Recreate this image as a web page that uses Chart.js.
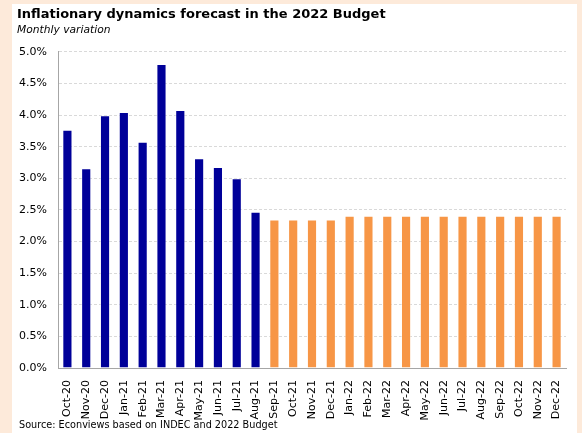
<!DOCTYPE html>
<html>
<head>
<meta charset="utf-8">
<script src="https://cdn.jsdelivr.net/npm/chart.js@4"></script>
<style>
  html, body { margin: 0; padding: 0; }
  body { width: 582px; height: 433px; background: #fdeada; position: relative; overflow: hidden; }
  #card { position: absolute; left: 12px; top: 4px; width: 565px; height: 429px; background: #fff; }
  #source { position: absolute; left: 19px; top: 419px; font: 9.7px "DejaVu Sans", sans-serif; color: #000; white-space: nowrap; }
</style>
</head>
<body>
<div id="card"><canvas id="inflChart" width="565" height="429"></canvas></div>
<div id="source">Source: Econviews based on INDEC and 2022 Budget</div>
<script>
const months = ['Oct-20','Nov-20','Dec-20','Jan-21','Feb-21','Mar-21','Apr-21','May-21','Jun-21','Jul-21','Aug-21',
  'Sep-21','Oct-21','Nov-21','Dec-21','Jan-22','Feb-22','Mar-22','Apr-22','May-22','Jun-22','Jul-22','Aug-22',
  'Sep-22','Oct-22','Nov-22','Dec-22']

// monthly CPI variation, %
const observed = [3.77, 3.16, 4.0, 4.05, 3.58, 4.81, 4.08, 3.32, 3.18, 3.0, 2.47]
// budget path from Sep-21
const budget = [2.35, 2.35, 2.35, 2.35, 2.41, 2.41, 2.41, 2.41, 2.41, 2.41, 2.41, 2.41, 2.41, 2.41, 2.41, 2.41]

const yTicks = [0, 0.5, 1, 1.5, 2, 2.5, 3, 3.5, 4, 4.5, 5]

// pad each series with nulls so both share the same category axis
const observedData = months.map((m, i) => i < observed.length ? observed[i] : null)
const budgetData = months.map((m, i) => i >= observed.length ? budget[i - observed.length] : null)

const tickFont = { family: 'DejaVu Sans', size: 11 }

new Chart(
  document.getElementById('inflChart'),
  {
    type: 'bar',
    data: {
      labels: months,
      datasets: [
        {
          label: 'Actual',
          data: observedData,
          backgroundColor: '#000099',
          borderColor: 'rgba(255,255,255,0.45)',
          borderWidth: 1,
        },
        {
          label: '2022 Budget',
          data: budgetData,
          backgroundColor: '#f79646',
          borderColor: 'rgba(255,255,255,0.45)',
          borderWidth: 1,
        },
      ]
    },
    options: {
      responsive: false,
      animation: false,
      layout: { padding: { left: 5, right: 11, top: 0, bottom: 0 } },
      datasets: {
        bar: { grouped: false, categoryPercentage: 1, barPercentage: 0.54 }
      },
      plugins: {
        legend: { display: false },
        tooltip: { enabled: false },
        title: {
          display: true,
          text: 'Inflationary dynamics forecast in the 2022 Budget',
          align: 'start',
          color: '#000',
          font: { family: 'DejaVu Sans', size: 13, weight: 'bold' },
          padding: { top: 3, bottom: 1 }
        },
        subtitle: {
          display: true,
          text: 'Monthly variation',
          align: 'start',
          color: '#000',
          font: { family: 'DejaVu Sans', size: 10.7, style: 'italic' },
          padding: { top: 0, bottom: 15.5 }
        }
      },
      scales: {
        x: {
          grid: { display: false },
          border: { display: true, color: '#a6a6a6', width: 1 },
          ticks: {
            color: '#000',
            font: tickFont,
            autoSkip: false,
            minRotation: 90,
            maxRotation: 90,
            padding: 4
          },
          afterFit: (scale) => { scale.height = 65 }
        },
        y: {
          min: 0,
          max: 5,
          afterBuildTicks: (scale) => { scale.ticks = yTicks.map(v => ({ value: v })) },
          grid: { color: '#d9d9d9', drawTicks: false },
          border: { display: true, color: '#a6a6a6', width: 1, dash: [3, 2] },
          ticks: {
            color: '#000',
            font: tickFont,
            padding: 11,
            callback: (v) => v.toFixed(1) + '%'
          },
          afterFit: (scale) => { scale.width = 41 }
        }
      }
    }
  }
)
</script>
</body>
</html>
